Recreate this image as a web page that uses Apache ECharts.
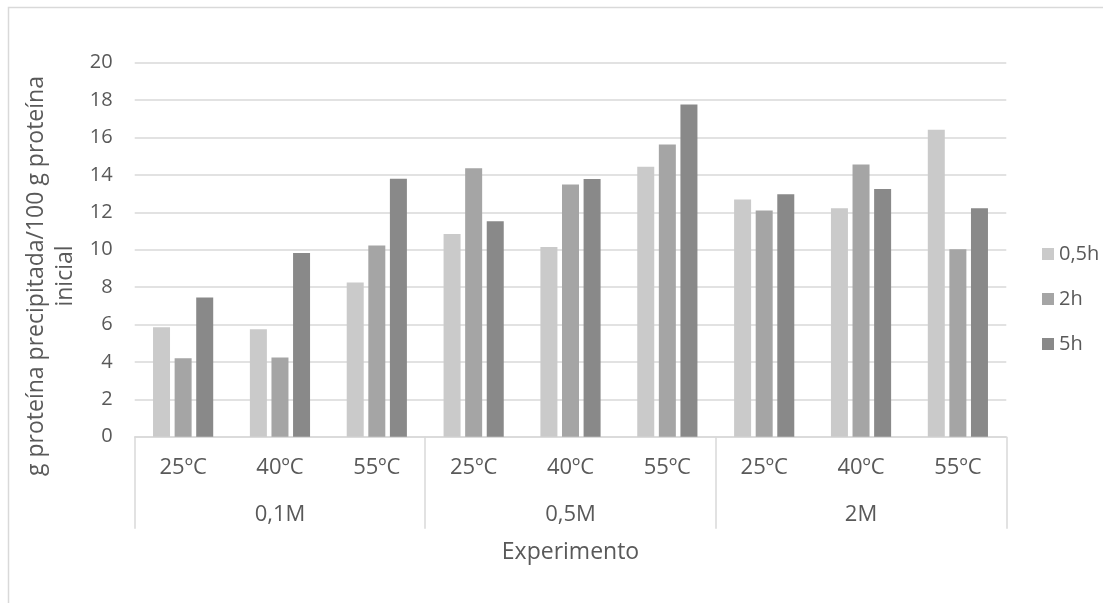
<!DOCTYPE html>
<html>
<head>
<meta charset="utf-8">
<script src="https://cdn.jsdelivr.net/npm/echarts@6/dist/echarts.min.js"></script>
<style>
  html, body { margin: 0; padding: 0; background: #fff; }
  #chart { width: 1103px; height: 603px; }
</style>
</head>
<body>
<div id="chart"></div>
<script>
// Temperatures within each concentration group
const temperatures = ['25ºC', '40ºC', '55ºC', '25ºC', '40ºC', '55ºC', '25ºC', '40ºC', '55ºC'];
// Salt concentration groups
const concentrations = ['0,1M', '0,5M', '2M'];
// Series names (incubation time)
const seriesNames = ['0,5h', '2h', '5h'];
// g precipitated protein / 100 g initial protein
const values05h = [5.85, 5.74, 8.25, 10.84, 10.14, 14.44, 12.69, 12.21, 16.42];
const values2h  = [4.19, 4.24, 10.23, 14.35, 13.48, 15.63, 12.10, 14.55, 10.02];
const values5h  = [7.45, 9.82, 13.80, 11.52, 13.78, 17.77, 12.96, 13.24, 12.21];

const FONT = '"Open Sans", sans-serif';
const TEXT = '#595959';
const GRID_LINE = '#d9d9d9';
const colors = ['#cacaca', '#a5a5a5', '#898989'];

const chart = echarts.init(document.getElementById('chart'), null, { renderer: 'canvas' });

const barSeries = [values05h, values2h, values5h].map((data, i) => ({
  name: seriesNames[i],
  type: 'bar',
  data: data,
  xAxisIndex: 0,
  yAxisIndex: 0,
  barWidth: 17,
  barGap: '27%',
  itemStyle: { color: colors[i] },
  emphasis: { disabled: true }
}));

chart.setOption({
  animation: false,
  color: colors,
  textStyle: { fontFamily: FONT },
  graphic: [
    {
      // chart area frame
      type: 'rect',
      shape: { x: 8.5, y: 7.5, width: 1200, height: 700 },
      style: { fill: 'none', stroke: GRID_LINE, lineWidth: 1.5 },
      silent: true,
      z: -1
    },
    {
      // value axis title (two lines, rotated)
      type: 'text',
      x: 51,
      y: 276,
      rotation: Math.PI / 2,
      style: {
        text: 'g proteína precipitada/100 g proteína\ninicial',
        font: '23px ' + FONT,
        fill: TEXT,
        align: 'center',
        verticalAlign: 'middle',
        lineHeight: 29
      },
      silent: true
    }
  ],
  grid: {
    left: 134.7,
    right: 96.7,
    top: 62.7,
    bottom: 166.3,
    containLabel: false
  },
  legend: {
    orient: 'vertical',
    left: 1037,
    top: 239,
    itemWidth: 12,
    itemHeight: 12,
    itemGap: 25,
    icon: 'rect',
    textStyle: { fontSize: 20, color: TEXT, fontFamily: FONT },
    data: seriesNames
  },
  xAxis: [
    {
      type: 'category',
      data: temperatures,
      position: 'bottom',
      axisLine: { show: true, lineStyle: { color: GRID_LINE, width: 1.5 } },
      axisTick: { show: false },
      axisLabel: { interval: 0, fontSize: 22, color: TEXT, margin: 20, fontFamily: FONT },
      splitLine: { show: false }
    },
    {
      type: 'category',
      data: concentrations,
      position: 'bottom',
      axisLine: { show: false },
      axisTick: {
        show: true,
        interval: 0,
        length: 92,
        lineStyle: { color: GRID_LINE, width: 1.5 }
      },
      axisLabel: { interval: 0, fontSize: 22, color: TEXT, margin: 67, fontFamily: FONT },
      name: 'Experimento',
      nameLocation: 'middle',
      nameGap: 104,
      nameTextStyle: { fontSize: 23, color: TEXT, fontFamily: FONT },
      splitLine: { show: false }
    }
  ],
  yAxis: {
    type: 'value',
    min: 0,
    max: 20,
    interval: 2,
    axisLine: { show: false },
    axisTick: { show: false },
    axisLabel: { fontSize: 20, color: TEXT, margin: 22, fontFamily: FONT },
    splitLine: { lineStyle: { color: GRID_LINE, width: 1.5 } }
  },
  series: barSeries
});
</script>
</body>
</html>
